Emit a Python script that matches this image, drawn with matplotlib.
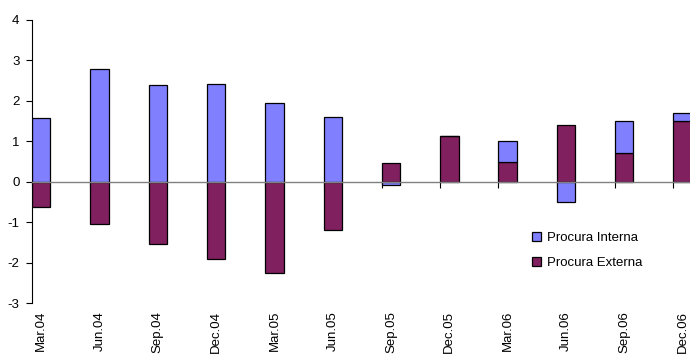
import numpy as np
import matplotlib.pyplot as plt
from matplotlib.transforms import blended_transform_factory, ScaledTranslation

plt.rcParams['font.family'] = ['Liberation Sans', 'DejaVu Sans']
plt.rcParams['axes.unicode_minus'] = False

categories = ['Mar.04', 'Jun.04', 'Sep.04', 'Dec.04', 'Mar.05', 'Jun.05',
              'Sep.05', 'Dec.05', 'Mar.06', 'Jun.06', 'Sep.06', 'Dec.06']
interna = [1.58, 2.79, 2.38, 2.42, 1.94, 1.61, -0.09, 0.0, 0.50, -0.50, 0.81, 0.20]
externa = [-0.63, -1.04, -1.55, -1.92, -2.25, -1.20, 0.46, 1.12, 0.50, 1.41, 0.70, 1.51]

c_int = '#8080FF'
c_ext = '#80205F'

fig = plt.figure(figsize=(6.9, 3.56), dpi=100)
ax = fig.add_axes([32 / 690, 53 / 356, 1 - 32 / 690, 283 / 356])

x = np.arange(len(categories))
w = 0.317
interna = np.array(interna)
externa = np.array(externa)

# Excel-style stacking: positives and negatives stack separately
pos_base = np.where(externa > 0, externa, 0)
neg_base = np.where(externa < 0, externa, 0)
int_base = np.where(interna >= 0, pos_base, neg_base)

ax.bar(x, externa, w, align='edge', color=c_ext, edgecolor='black', linewidth=0.9,
       label='Procura Externa', zorder=2)
ax.bar(x, interna, w, bottom=int_base, align='edge', color=c_int, edgecolor='black',
       linewidth=0.9, label='Procura Interna', zorder=2)

ax.set_xlim(0, (690 - 32) / 58.3)
ax.set_ylim(-3, 4)
ax.set_yticks(range(-3, 5))
ax.tick_params(axis='y', length=4, width=0.8, pad=5, labelsize=9.5)

ax.spines['top'].set_visible(False)
ax.spines['right'].set_visible(False)
ax.spines['bottom'].set_position(('data', 0))
ax.spines['bottom'].set_color('#808080')
ax.spines['bottom'].set_linewidth(1.0)
ax.spines['bottom'].set_zorder(3)
ax.spines['left'].set_linewidth(0.8)
ax.set_xticks(x)
ax.set_xticklabels([])
ax.tick_params(axis='x', length=4, width=0.8, color='black')

# category labels sit below the plot area
trans = blended_transform_factory(ax.transData, ax.transAxes) + \
    ScaledTranslation(0, -8 / 100, fig.dpi_scale_trans)
for i, lab in enumerate(categories):
    ax.text(i + w / 2, 0, lab, transform=trans, rotation=90, ha='center', va='top',
            fontsize=9.5, clip_on=False)

h, l = ax.get_legend_handles_labels()
ax.legend(h[::-1], l[::-1], loc='upper left', bbox_to_anchor=(532 / 690, 1 - 232 / 356),
          bbox_transform=fig.transFigure, frameon=False, fontsize=9.5,
          handlelength=0.7, handleheight=0.7, handletextpad=0.45, labelspacing=0.97,
          borderpad=0, borderaxespad=0)

fig.savefig('out.png', dpi=100)
